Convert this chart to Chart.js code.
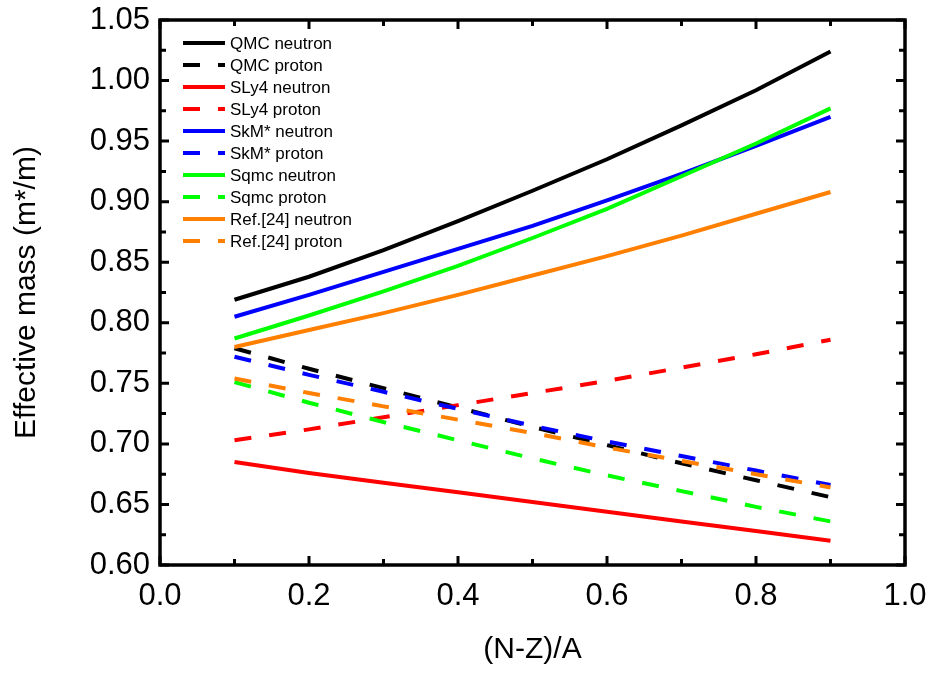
<!DOCTYPE html>
<html>
<head>
<meta charset="utf-8">
<script src="https://cdn.jsdelivr.net/npm/chart.js@4.4.1/dist/chart.umd.min.js"></script>
<style>
  html, body { margin: 0; padding: 0; background: #fff; }
  #wrap { width: 934px; height: 675px; }
</style>
</head>
<body>
<div id="wrap"><canvas id="chart-mass"></canvas></div>
<script>
// asymmetry (N-Z)/A
const asym = [0.1, 0.2, 0.3, 0.4, 0.5, 0.6, 0.7, 0.8, 0.9]

// effective mass m*/m
const qmcNeutron = [0.819, 0.838, 0.860, 0.884, 0.909, 0.935, 0.963, 0.992, 1.024]
const qmcProton = [0.779, 0.762, 0.746, 0.730, 0.714, 0.699, 0.684, 0.670, 0.656]
const sly4Neutron = [0.685, 0.676, 0.668, 0.660, 0.652, 0.644, 0.636, 0.628, 0.620]
const sly4Proton = [0.703, 0.712, 0.722, 0.732, 0.742, 0.752, 0.763, 0.774, 0.786]
const skmNeutron = [0.805, 0.823, 0.842, 0.861, 0.880, 0.901, 0.923, 0.946, 0.970]
const skmProton = [0.772, 0.757, 0.743, 0.729, 0.715, 0.702, 0.690, 0.678, 0.666]
const sqmcNeutron = [0.787, 0.806, 0.826, 0.847, 0.870, 0.894, 0.921, 0.948, 0.977]
const sqmcProton = [0.751, 0.734, 0.718, 0.703, 0.688, 0.674, 0.661, 0.648, 0.636]
const refNeutron = [0.780, 0.794, 0.808, 0.823, 0.839, 0.855, 0.872, 0.890, 0.908]
const refProton = [0.754, 0.742, 0.731, 0.720, 0.709, 0.697, 0.686, 0.675, 0.664]

const seriesNames = [
  "QMC neutron", "QMC proton", "SLy4 neutron", "SLy4 proton", "SkM* neutron",
  "SkM* proton", "Sqmc neutron", "Sqmc proton", "Ref.[24] neutron", "Ref.[24] proton"
]
const seriesValues = [
  qmcNeutron, qmcProton, sly4Neutron, sly4Proton, skmNeutron,
  skmProton, sqmcNeutron, sqmcProton, refNeutron, refProton
]
const seriesColors = ["#000000", "#000000", "#ff0000", "#ff0000", "#0000ff",
  "#0000ff", "#00ff00", "#00ff00", "#ff8000", "#ff8000"]

const FONT = "'Liberation Sans', Arial, sans-serif"
const DASH = [17, 18]

let datasets = seriesNames.map((name, i) => {
  return {
    label: name,
    data: asym.map((x, j) => ({x: x, y: seriesValues[i][j]})),
    borderColor: seriesColors[i],
    backgroundColor: seriesColors[i],
    borderWidth: 4,
    borderDash: i % 2 === 1 ? DASH : [],
    pointRadius: 0,
    fill: false,
    tension: 0,
    order: seriesNames.length - i
  }
})

// frame, inward ticks on all four sides, legend inside the plot
const framePlugin = {
  id: "frame",
  afterDraw(chart) {
    let ctx = chart.ctx
    let area = chart.chartArea
    let xs = chart.scales.x
    let ys = chart.scales.y
    ctx.save()
    ctx.strokeStyle = "#000"
    ctx.lineWidth = 3.5
    ctx.lineCap = "butt"
    ctx.setLineDash([])
    ctx.strokeRect(area.left, area.top, area.right - area.left, area.bottom - area.top)
    ctx.lineWidth = 3
    xs.ticks.forEach(t => {
      let px = xs.getPixelForValue(t.value)
      let len = Math.round(t.value * 10) % 2 === 0 ? 9 : 6
      ctx.beginPath()
      ctx.moveTo(px, area.bottom)
      ctx.lineTo(px, area.bottom - len)
      ctx.moveTo(px, area.top)
      ctx.lineTo(px, area.top + len)
      ctx.stroke()
    })
    ys.ticks.forEach(t => {
      let py = ys.getPixelForValue(t.value)
      let len = Math.round(t.value * 1000) % 50 === 0 ? 9 : 6
      ctx.beginPath()
      ctx.moveTo(area.left, py)
      ctx.lineTo(area.left + len, py)
      ctx.moveTo(area.right, py)
      ctx.lineTo(area.right - len, py)
      ctx.stroke()
    })
    // legend
    ctx.font = "17px " + FONT
    ctx.textBaseline = "middle"
    ctx.textAlign = "left"
    chart.data.datasets.forEach((ds, i) => {
      let y = area.top + 23 + i * 22
      let x0 = area.left + 23
      ctx.strokeStyle = ds.borderColor
      ctx.lineWidth = 4
      ctx.setLineDash(ds.borderDash)
      ctx.beginPath()
      ctx.moveTo(x0, y)
      ctx.lineTo(x0 + 42, y)
      ctx.stroke()
      ctx.setLineDash([])
      ctx.fillStyle = "#000"
      ctx.fillText(ds.label, x0 + 47, y + 1)
    })
    ctx.restore()
  }
}

new Chart("chart-mass", {
  type: "line",
  data: {datasets: datasets},
  options: {
    responsive: true,
    maintainAspectRatio: false,
    animation: false,
    layout: {padding: {top: 20, right: 29, left: 0, bottom: 0}},
    plugins: {
      legend: {display: false},
      tooltip: {enabled: false}
    },
    scales: {
      x: {
        type: "linear",
        min: 0,
        max: 1,
        grid: {display: false, drawTicks: false},
        border: {display: false},
        ticks: {
          stepSize: 0.1,
          autoSkip: false,
          maxRotation: 0,
          padding: 13,
          color: "#000",
          font: {family: FONT, size: 31},
          callback: v => Math.round(v * 10) % 2 === 0 ? v.toFixed(1) : ""
        },
        title: {
          display: true,
          text: "(N-Z)/A",
          color: "#000",
          font: {family: FONT, size: 30},
          padding: {top: 0, bottom: 7}
        },
        afterFit(scale) {
          scale.height = 110
          scale.paddingLeft = 0
          scale.paddingRight = 0
        }
      },
      y: {
        min: 0.6,
        max: 1.05,
        grid: {display: false, drawTicks: false},
        border: {display: false},
        ticks: {
          stepSize: 0.025,
          autoSkip: false,
          padding: 10,
          color: "#000",
          font: {family: FONT, size: 31},
          callback: v => Math.round(v * 1000) % 50 === 0 ? v.toFixed(2) : ""
        },
        title: {
          display: true,
          text: "Effective mass (m*/m)",
          color: "#000",
          font: {family: FONT, size: 30},
          padding: {top: 9, bottom: 0}
        },
        afterFit(scale) {
          scale.width = 160
          scale.paddingTop = 0
          scale.paddingBottom = 0
        }
      }
    }
  },
  plugins: [framePlugin]
})
</script>
</body>
</html>
